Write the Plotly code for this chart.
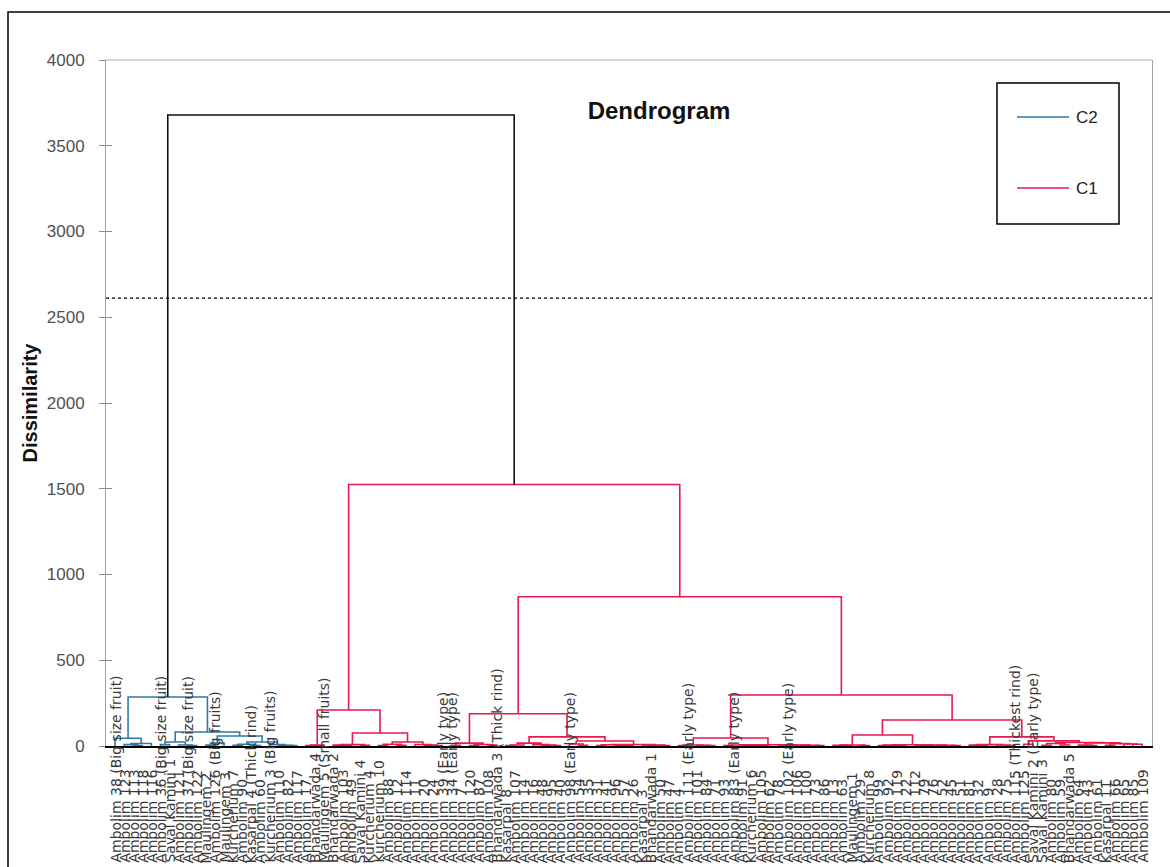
import plotly.graph_objects as go

# ---------------- data ----------------
leaf_labels = [
    "Ambolim 38 (Big size fruit)", "Ambolim 123", "Ambolim 113", "Ambolim 118", "Ambolim 116",
    "Ambolim 36 (Big size fruit)", "Saval Kamini 1", "Ambolim 121", "Ambolim 37 (Big size fruit)", "Ambolim 122",
    "Maulingem 2", "Ambolim 126 (Big fruits)", "Maulingem 3", "Kurcherium 7", "Ambolim 90",
    "Kasarpal 4 (Thick rind)", "Ambolim 60", "Kurcherium 3 (Big fruits)", "Ambolim 110", "Ambolim 82",
    "Ambolim 117", "Ambolim 17", "Bhandarwada 4", "Maulingem 5 (Small fruits)", "Bhandarwada 2",
    "Ambolim 103", "Ambolim 49", "Saval Kamini 4", "Kurcherium 4", "Kurcherium 10",
    "Ambolim 88", "Ambolim 12", "Ambolim 114", "Ambolim 11", "Ambolim 20",
    "Ambolim 24", "Ambolim 39 (Early type)", "Ambolim 34 (Early type)", "Ambolim 7", "Ambolim 120",
    "Ambolim 87", "Ambolim 108", "Bhandarwada 3 (Thick rind)", "Kasarpal 8", "Ambolim 107",
    "Ambolim 14", "Ambolim 16", "Ambolim 48", "Ambolim 95", "Ambolim 40",
    "Ambolim 98 (Early type)", "Ambolim 54", "Ambolim 35", "Ambolim 31", "Ambolim 41",
    "Ambolim 96", "Ambolim 57", "Ambolim 26", "Kasarpal 3", "Bhandarwada 1",
    "Ambolim 50", "Ambolim 47", "Ambolim 4", "Ambolim 111 (Early type)", "Ambolim 101",
    "Ambolim 84", "Ambolim 71", "Ambolim 93", "Ambolim 83 (Early type)", "Ambolim 91",
    "Kurcherium 6", "Ambolim 105", "Ambolim 62", "Ambolim 78", "Ambolim 102 (Early type)",
    "Ambolim 106", "Ambolim 100", "Ambolim 73", "Ambolim 86", "Ambolim 13",
    "Ambolim 63", "Maulingem 1", "Ambolim 29", "Kurcherium 8", "Ambolim 99",
    "Ambolim 92", "Ambolim 119", "Ambolim 22", "Ambolim 112", "Ambolim 79",
    "Ambolim 76", "Ambolim 52", "Ambolim 45", "Ambolim 51", "Ambolim 81",
    "Ambolim 32", "Ambolim 9", "Ambolim 28", "Ambolim 75", "Ambolim 115 (Thickest rind)",
    "Ambolim 125", "Saval Kamini 2 (Early type)", "Saval Kamini 3", "Ambolim 80", "Ambolim 59",
    "Bhandarwada 5", "Ambolim 64", "Ambolim 43", "Ambolim 61", "Kasarpal 11",
    "Ambolim 66", "Ambolim 65", "Ambolim 85", "Ambolim 109",
]

# merges: (node, left child, right child, dissimilarity); ints are leaf indices
c2_merges = [
    ("a3", 2, 3, 3), ("a2", 1, "a3", 8), ("a1", "a2", 4, 15), ("A", 0, "a1", 45),
    ("e1a", 5, 6, 8), ("e1c", 8, 9, 3), ("e1b", 7, "e1c", 6), ("E1", "e1a", "e1b", 23),
    ("f1a", 10, 11, 5), ("F1", "f1a", 12, 17),
    ("f2a1", 13, 14, 4), ("f2a2", 15, 16, 3), ("F2a", "f2a1", "f2a2", 10),
    ("f2b3", 19, 20, 2), ("f2b2", 18, "f2b3", 4), ("F2b", 17, "f2b2", 8),
    ("F2", "F2a", "F2b", 23), ("F", "F1", "F2", 58), ("E", "E1", "F", 82),
    ("C2", "A", "E", 286),
]

c1_merges = [
    ("l1a1", 21, 22, 3), ("L1a", "l1a1", 23, 5),
    ("b1", 25, 26, 3), ("b2", 24, "b1", 5), ("b3", 27, 28, 4), ("L1b1", "b2", "b3", 8),
    ("c1", 29, 30, 3), ("c2", 31, 32, 4), ("Cl", "c1", "c2", 10),
    ("c3", 35, 36, 3), ("c4", 34, "c3", 5), ("Cr", 33, "c4", 9),
    ("L1b2", "Cl", "Cr", 23), ("L1b", "L1b1", "L1b2", 76), ("L1", "L1a", "L1b", 210),
    ("d1", 37, 38, 4), ("d2", 39, 40, 3), ("d3", 41, 42, 5), ("d4", "d2", "d3", 9),
    ("R1a1", "d1", "d4", 17),
    ("g1", 43, 44, 3), ("g2", "g1", 45, 6), ("g3", 48, 49, 3), ("g4", 47, "g3", 5),
    ("g5", 46, "g4", 8), ("R1a2a", "g2", "g5", 17),
    ("k1", 51, 52, 4), ("K1", 50, "k1", 12),
    ("m1", 53, 54, 3), ("m2", 56, 57, 2), ("m3", 55, "m2", 4), ("M1", "m1", "m3", 7),
    ("m4", 58, 59, 2), ("m5", 60, 61, 3), ("M2", "m4", "m5", 5), ("K2", "M1", "M2", 9),
    ("R1a2b", "K1", "K2", 29), ("R1a2", "R1a2a", "R1a2b", 53), ("R1a", "R1a1", "R1a2", 188),
    ("n1", 62, 63, 3), ("n2", 65, 66, 2), ("n3", 64, "n2", 4), ("N1", "n1", "n3", 6),
    ("p1", 67, 68, 2), ("p2", 71, 72, 2), ("p3", 70, "p2", 3), ("p4", 69, "p3", 4),
    ("P", "p1", "p4", 6),
    ("q1", 73, 74, 2), ("q2", 75, 76, 3), ("q3", 77, 78, 2), ("q4", "q2", "q3", 4),
    ("Q", "q1", "q4", 5), ("N2", "P", "Q", 7), ("R1b1", "N1", "N2", 47),
    ("s1", 80, 81, 3), ("s2", 79, "s1", 4), ("s3", 82, 83, 2), ("S1", "s2", "s3", 6),
    ("t1", 84, 85, 2), ("t2", 86, 87, 3), ("T1", "t1", "t2", 5),
    ("t3", 88, 89, 2), ("t4", 90, 91, 3), ("t5", 92, 93, 2), ("t6", "t4", "t5", 4),
    ("T2", "t3", "t6", 5), ("S2", "T1", "T2", 7), ("R1b2a", "S1", "S2", 64),
    ("u1", 95, 96, 3), ("u2", 94, "u1", 5), ("u3", 98, 99, 3), ("u4", 97, "u3", 6),
    ("U1", "u2", "u4", 8),
    ("v1", 100, 101, 10), ("w1", 102, 103, 4), ("w2", 104, 105, 6), ("W1", "w1", "w2", 15),
    ("x1", 107, 108, 3), ("x2", 106, "x1", 5), ("x3", 112, 113, 10), ("x4", 111, "x3", 12),
    ("x5", 109, 110, 4), ("x6", "x5", "x4", 14), ("X", "x2", "x6", 18),
    ("W2", "W1", "X", 20), ("U2", "v1", "W2", 30), ("R1b2b", "U1", "U2", 53),
    ("R1b2", "R1b2a", "R1b2b", 152), ("R1b", "R1b1", "R1b2", 297),
    ("R1", "R1a", "R1b", 870), ("C1", "L1", "R1", 1525),
]

root_merges = [("root", "C2", "C1", 3679)]

cut_level = 2612
cluster_names = ["C2", "C1"]
cluster_colors = ["#2F79A8", "#E8194D"]
root_color = "#111111"
y_ticks = [0, 500, 1000, 1500, 2000, 2500, 3000, 3500, 4000]

# ---------------- tree geometry ----------------
children, heights = {}, {}
for name, l, r, h in c2_merges + c1_merges + root_merges:
    children[name] = (l, r)
    heights[name] = h


def pos(n):
    if isinstance(n, int):
        return float(n)
    l, r = children[n]
    return (pos(l) + pos(r)) / 2.0


def hgt(n):
    return 0.0 if isinstance(n, int) else float(heights[n])


def leaves(n):
    if isinstance(n, int):
        return [n]
    l, r = children[n]
    return leaves(l) + leaves(r)


assert sorted(leaves("root")) == list(range(len(leaf_labels)))


def segments(merges):
    xs, ys = [], []
    for name, l, r, h in merges:
        xl, xr = pos(l), pos(r)
        xs += [xl, xl, xr, xr, None]
        ys += [hgt(l), h, h, hgt(r), None]
    return xs, ys


fig = go.Figure()
for merges, color in [(c2_merges, cluster_colors[0]), (c1_merges, cluster_colors[1]),
                      (root_merges, root_color)]:
    xs, ys = segments(merges)
    fig.add_trace(go.Scatter(x=xs, y=ys, mode="lines", line=dict(color=color, width=1.6),
                             showlegend=False, hoverinfo="skip", cliponaxis=False))

# invisible trace so the inside-tick overlay axis is drawn
fig.add_trace(go.Scatter(x=[0], y=[0], yaxis="y2", mode="markers",
                         marker=dict(opacity=0), showlegend=False, hoverinfo="skip"))

N = len(leaf_labels)
W, H = 1170, 867
L, R, T, B = 106, 18, 60, 121
plot_w, plot_h = W - L - R, H - T - B
px_per_leaf = 1027.0 / (N - 1)
x_lo = -(115 - L) / px_per_leaf
x_hi = (N - 1) + (W - R - 1142) / px_per_leaf


def px_x(p):
    return (p - L) / plot_w


def px_y(p):
    return (H - B - p) / plot_h


annotations = []
for i, lab in enumerate(leaf_labels):
    annotations.append(dict(
        x=i, xref="x", y=px_y(865), yref="paper", text=lab, showarrow=False,
        textangle=-90, xanchor="center", yanchor="bottom",
        font=dict(family="DejaVu Sans", size=14, color="#3a3a3a"),
    ))

# manual legend
leg_font = dict(family="Liberation Sans", size=17, color="#222222")
for name, color, ypx in [(cluster_names[0], cluster_colors[0], 117),
                         (cluster_names[1], cluster_colors[1], 188)]:
    annotations.append(dict(x=px_x(1074), y=px_y(ypx), xref="paper", yref="paper",
                            text=name, showarrow=False, xanchor="left", yanchor="middle",
                            font=leg_font))

shapes = [
    # outer frame
    dict(type="rect", xref="paper", yref="paper", x0=px_x(8), x1=px_x(1200),
         y0=px_y(900), y1=px_y(12), line=dict(color="#000000", width=1.5)),
    # top border of plot area
    dict(type="line", xref="paper", yref="paper", x0=0, x1=1, y0=1, y1=1,
         line=dict(color="#b0b0b0", width=1)),
    # cut line
    dict(type="line", xref="paper", yref="y", x0=0, x1=1, y0=cut_level, y1=cut_level,
         line=dict(color="#000000", width=1.2, dash="dot")),
    # legend box
    dict(type="rect", xref="paper", yref="paper", x0=px_x(997), x1=px_x(1119),
         y0=px_y(224), y1=px_y(83), line=dict(color="#000000", width=1.5)),
    dict(type="line", xref="paper", yref="paper", x0=px_x(1017), x1=px_x(1069),
         y0=px_y(117), y1=px_y(117), line=dict(color=cluster_colors[0], width=1.6)),
    dict(type="line", xref="paper", yref="paper", x0=px_x(1017), x1=px_x(1069),
         y0=px_y(188), y1=px_y(188), line=dict(color=cluster_colors[1], width=1.6)),
]

fig.update_layout(
    width=W, height=H,
    margin=dict(l=L, r=R, t=T, b=B, pad=0),
    paper_bgcolor="white", plot_bgcolor="white",
    title=dict(text="<b>Dendrogram</b>", x=659 / W, xanchor="center",
               y=1 - 111 / H, yanchor="middle", yref="container",
               font=dict(family="Liberation Sans", size=24, color="#111111")),
    xaxis=dict(range=[x_lo, x_hi], showticklabels=False, ticks="", showgrid=False,
               zeroline=False, showline=True, linecolor="#000000", linewidth=2,
               layer="above traces"),
    yaxis=dict(range=[0, 4000], tickvals=y_ticks,
               ticks="outside", ticklen=6, tickcolor="#8c8c8c", tickwidth=1,
               ticklabelstandoff=11,
               tickfont=dict(family="Liberation Sans", size=17, color="#505050"),
               showgrid=False, zeroline=False, showline=True, linecolor="#a0a0a0",
               linewidth=1, mirror=True,
               title=dict(text="<b>Dissimilarity</b>", standoff=3,
                          font=dict(family="Liberation Sans", size=20, color="#111111"))),
    yaxis2=dict(overlaying="y", matches="y", side="left", ticks="inside", ticklen=6,
                tickcolor="#8c8c8c", tickwidth=1, showticklabels=False, showgrid=False,
                zeroline=False, showline=False, tickvals=y_ticks),
    annotations=annotations,
    shapes=shapes,
    showlegend=False,
)

fig.write_html("out.html", config={"displayModeBar": False},
               post_script="document.body.style.margin='0px';document.body.style.overflow='hidden';")
